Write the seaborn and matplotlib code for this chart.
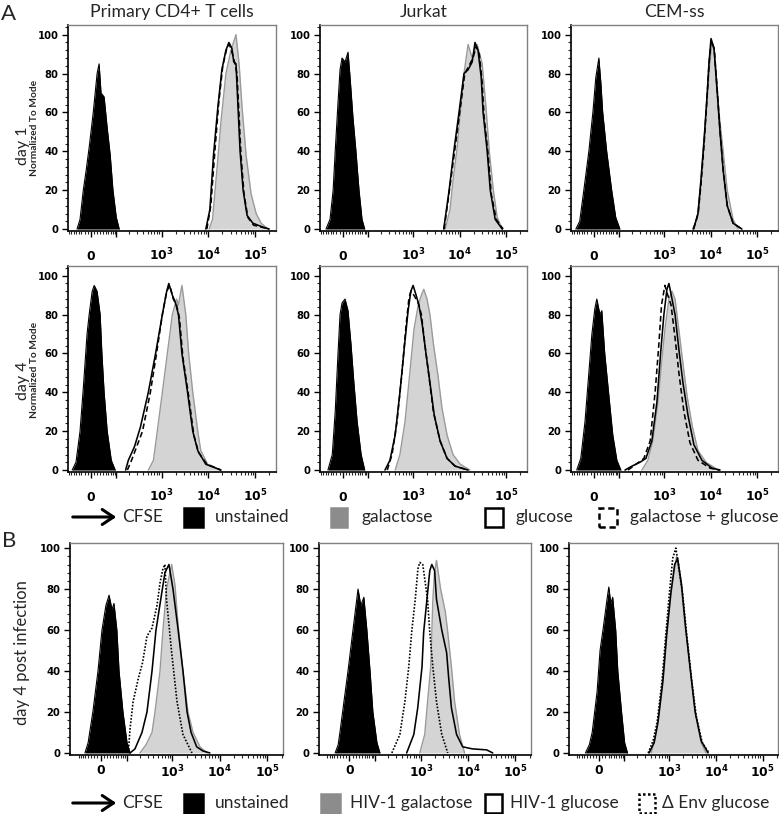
import pandas as pd
import matplotlib
matplotlib.use("Agg")
import matplotlib.pyplot as plt
import seaborn as sns
from matplotlib.patches import Rectangle, FancyArrowPatch
from matplotlib.ticker import MultipleLocator

# ---- labels ----
cell_types = ["Primary CD4+ T cells", "Jurkat", "CEM-ss"]
row_labels = ["day 1", "day 4"]
legend_a = ["unstained", "galactose", "glucose", "galactose + glucose"]
legend_b = ["unstained", "HIV-1 galactose", "HIV-1 glucose", "\u0394 Env glucose"]
x_major = [0, 100, 1e3, 1e4, 1e5]
x_major_labels = ["0", "", r"$\mathbf{10^{3}}$", r"$\mathbf{10^{4}}$", r"$\mathbf{10^{5}}$"]
y_major = [0, 20, 40, 60, 80, 100]

# ---- histograms: (CFSE intensity, % of mode) ----
# A, day 1
primary_d1_unst = [(-46, 0), (-35, 5), (-24, 20), (-15, 30), (-5.5, 42), (7, 60), (19, 80), (25.5, 85),
                   (32, 70), (43, 68), (55, 52), (68, 38), (81, 20), (99, 6), (117, 0)]
primary_d1_gal = [(10400, 0), (12300, 5), (15200, 30), (18600, 55), (23800, 80), (30500, 92), (39100, 100),
                  (45500, 85), (52900, 62), (64200, 38), (82300, 18), (105500, 8), (135000, 3), (190000, 0)]
primary_d1_glc = [(8850, 0), (10800, 10), (12900, 38), (15900, 62), (19500, 82), (23800, 92), (27500, 96),
                  (31900, 93), (35000, 86), (39100, 85), (43300, 62), (47800, 40), (55500, 20), (67500, 7),
                  (90000, 3), (147000, 1), (200000, 0)]
primary_d1_galglc = [(9300, 0), (11300, 12), (13800, 40), (16700, 65), (20400, 84), (24800, 93), (28400, 95),
                     (33000, 90), (36300, 86), (41000, 80), (45500, 58), (50000, 38), (58000, 18), (70000, 6),
                     (93000, 2), (200000, 0)]

jurkat_d1_unst = [(-58, 0), (-42, 5), (-31, 20), (-24, 40), (-15, 65), (-8.7, 82), (-2.5, 88), (6.8, 86),
                  (16, 91), (22.6, 78), (32, 58), (43, 40), (55, 20), (68, 5), (81, 0)]
jurkat_d1_gal = [(4900, 0), (6200, 10), (7200, 25), (8850, 42), (10300, 60), (12400, 80), (15200, 95),
                 (18600, 88), (23800, 95), (30500, 85), (37000, 62), (43300, 40), (52900, 20), (64200, 6), (82300, 0)]
jurkat_d1_glc = [(4550, 0), (5950, 20), (7500, 40), (9700, 60), (12400, 80), (15200, 82), (18600, 86),
                 (21400, 96), (24800, 92), (29100, 78), (31900, 60), (39100, 40), (45500, 20), (58000, 5), (82300, 0)]
jurkat_d1_galglc = [(4650, 0), (6200, 22), (8000, 42), (10300, 62), (12900, 80), (15900, 84), (19300, 88),
                    (22800, 94), (26500, 90), (30500, 75), (33500, 58), (41000, 38), (47800, 18), (61000, 5),
                    (86000, 0)]

cem_d1_unst = [(-63, 0), (-47, 4), (-32, 20), (-15.5, 40), (-3, 60), (6, 78), (15.5, 88), (22, 75), (28, 60),
               (42, 40), (62, 20), (81, 6), (104, 0)]
cem_d1_gal = [(4080, 0), (5110, 5), (5900, 20), (6860, 40), (8000, 60), (9190, 80), (10700, 96), (12300, 90),
              (15100, 60), (18600, 40), (22700, 20), (30300, 5), (38800, 0)]
cem_d1_glc = [(4280, 0), (5360, 8), (6200, 25), (7200, 45), (8350, 68), (9190, 85), (10200, 98), (11800, 93),
              (13700, 72), (15900, 50), (18600, 30), (22700, 12), (30300, 3), (47000, 0)]
cem_d1_galglc = [(4300, 0), (5400, 8), (6250, 24), (7250, 44), (8400, 68), (9250, 85), (10250, 97), (11900, 93),
                 (13800, 72), (16000, 50), (18700, 30), (22800, 12), (30500, 3), (47000, 0)]

# A, day 4
primary_d4_unst = [(-66, 0), (-50, 4), (-35, 20), (-24, 42), (-12, 70), (-5.5, 80), (3.7, 92), (10, 95),
                   (19, 92), (29, 80), (35, 60), (43, 40), (55, 20), (73, 5), (93, 0)]
primary_d4_gal = [(520, 0), (670, 5), (810, 20), (1040, 40), (1330, 60), (1700, 80), (2090, 88), (2300, 85),
                  (2730, 95), (3300, 80), (3800, 60), (4650, 40), (5950, 20), (6900, 10), (9700, 3), (18600, 0)]
primary_d4_glc = [(165, 0), (190, 5), (260, 12), (350, 22), (520, 40), (745, 60), (1040, 80), (1290, 92),
                  (1430, 96), (1700, 90), (1990, 86), (2300, 80), (2730, 60), (3600, 40), (4650, 20), (5950, 10),
                  (8850, 3), (18600, 0)]
primary_d4_galglc = [(181, 0), (224, 5), (390, 20), (575, 40), (780, 60), (1040, 80), (1290, 92), (1505, 95),
                     (1785, 88), (2090, 85), (2420, 78), (2860, 58), (3800, 38), (4900, 18), (6200, 9), (9300, 3),
                     (18600, 0)]

jurkat_d4_unst = [(-50, 0), (-34, 8), (-24, 30), (-15, 60), (-8.7, 80), (-2.5, 86), (6.8, 88), (16, 82),
                  (25.5, 65), (35.5, 45), (47.5, 25), (64, 8), (81, 0)]
jurkat_d4_gal = [(410, 0), (520, 8), (670, 25), (850, 50), (1040, 72), (1290, 85), (1505, 90), (1700, 93),
                 (1990, 88), (2300, 80), (2730, 65), (3450, 48), (4170, 32), (5370, 18), (7200, 8), (10300, 3),
                 (16700, 0)]
jurkat_d4_glc = [(245, 0), (315, 5), (410, 18), (520, 40), (640, 62), (780, 82), (895, 92), (1000, 95),
                 (1160, 90), (1330, 85), (1570, 75), (1890, 60), (2300, 45), (2860, 28), (3800, 15), (5370, 6),
                 (8000, 2), (15200, 0)]
jurkat_d4_galglc = [(275, 0), (350, 8), (450, 25), (575, 50), (710, 75), (810, 88), (895, 92), (1040, 90),
                    (1290, 86), (1505, 80), (1785, 65), (2200, 48), (2730, 30), (3800, 15), (5370, 6), (8000, 2),
                    (15200, 0)]

cem_d4_unst = [(-59, 0), (-43, 6), (-28, 25), (-15.5, 50), (-6, 70), (3, 83), (9, 88), (19, 80), (25, 82),
               (35, 60), (50.6, 38), (67, 18), (87, 5), (110, 0)]
cem_d4_gal = [(330, 0), (445, 5), (570, 15), (740, 35), (880, 55), (1070, 75), (1270, 88), (1480, 92),
              (1720, 88), (2080, 72), (2540, 55), (3120, 38), (4080, 22), (5360, 10), (8000, 4), (14500, 0)]
cem_d4_glc = [(138, 0), (198, 2), (300, 4), (405, 6), (545, 15), (700, 35), (840, 60), (990, 80), (1150, 93),
              (1270, 96), (1480, 88), (1720, 80), (2080, 62), (2540, 45), (3270, 28), (4375, 13), (6500, 5),
              (10700, 1), (15900, 0)]
cem_d4_galglc = [(162, 0), (245, 3), (366, 6), (500, 15), (640, 40), (773, 65), (880, 85), (1040, 95),
                 (1200, 90), (1410, 85), (1720, 68), (2080, 50), (2667, 30), (3600, 14), (5360, 5), (9700, 1),
                 (15900, 0)]

# B, day 4 post infection
primary_inf_unst = [(-52, 0), (-40, 5), (-24, 20), (-8, 40), (4, 60), (16, 72), (26, 77), (36, 70), (43, 73),
                    (54, 60), (63, 40), (81, 20), (103, 5), (122, 0)]
primary_inf_gal = [(204, 0), (276, 4), (372, 10), (430, 20), (550, 40), (635, 60), (755, 80), (970, 92),
                   (1140, 82), (1330, 62), (1680, 40), (2140, 20), (2740, 10), (3840, 3), (5400, 0)]
primary_inf_glc = [(122, 0), (158, 2), (226, 10), (290, 20), (372, 40), (452, 60), (617, 80), (700, 88),
                   (850, 92), (1035, 80), (1330, 60), (1680, 40), (2050, 20), (2490, 10), (3270, 3), (4400, 1),
                   (6200, 0)]
primary_inf_denv = [(110, 0), (122, 12), (143, 25), (186, 36), (232, 44), (290, 57), (372, 61), (475, 72),
                    (550, 83), (635, 90), (700, 92), (755, 75), (970, 49), (1260, 25), (1680, 9), (2600, 0)]

jurkat_inf_unst = [(-47, 0), (-36, 4), (-30, 10), (-17, 25), (-4.5, 40), (10.5, 60), (26.5, 80), (36, 72),
                   (47, 76), (59, 60), (73, 40), (87, 20), (110, 5), (130, 0)]
jurkat_inf_gal = [(950, 0), (1210, 9), (1390, 25), (1620, 42), (1710, 59), (1800, 75), (1950, 88), (2150, 94),
                  (2630, 80), (3300, 69), (3720, 59), (4450, 42), (5200, 25), (6600, 9), (8450, 0)]
jurkat_inf_glc = [(500, 0), (710, 9), (860, 22), (1060, 42), (1150, 59), (1350, 75), (1550, 89), (1710, 92),
                  (1960, 89), (2150, 75), (2780, 60), (3520, 49), (3880, 37), (4450, 22), (5720, 9), (7700, 3),
                  (12300, 2), (24700, 1.5), (33400, 0)]
jurkat_inf_denv = [(240, 0), (358, 9), (458, 25), (555, 42), (640, 59), (762, 75), (870, 90), (950, 93),
                   (1100, 92), (1390, 75), (1550, 59), (1800, 42), (2150, 25), (2780, 9), (3720, 0)]

cem_inf_unst = [(-45, 0), (-31, 4), (-21.5, 10), (-6, 30), (3, 50), (12, 60), (25, 75), (31, 81), (38, 73),
                (45, 76), (57, 60), (66, 40), (84, 20), (101, 5), (119, 0)]
cem_inf_gal = [(405, 0), (520, 10), (600, 20), (745, 40), (880, 60), (1120, 80), (1430, 96), (1830, 80),
               (2220, 60), (2840, 40), (3580, 20), (4820, 5), (6150, 0)]
cem_inf_glc = [(365, 0), (470, 5), (569, 15), (726, 35), (880, 58), (1075, 78), (1300, 92), (1506, 95),
               (1830, 82), (2220, 62), (2840, 40), (3580, 20), (4820, 6), (6790, 0)]
cem_inf_denv = [(348, 0), (446, 6), (545, 15), (695, 35), (840, 58), (1020, 80), (1181, 95), (1375, 100),
                (1570, 92), (1920, 78), (2350, 58), (3000, 36), (3780, 18), (5070, 5), (7100, 0)]

W, H = 779, 814

sns.set_style("ticks")
plt.rcParams["font.family"] = ["Lato", "DejaVu Sans"]
plt.rcParams["mathtext.fontset"] = "dejavusans"


def fx(px):
    return px / W


def fy(py):
    return 1 - py / H


def draw_curve(ax, pts, kind):
    df = pd.DataFrame(pts, columns=["cfse", "pct"])
    common = dict(data=df, x="cfse", y="pct", ax=ax, sort=False, estimator=None)
    if kind == "unstained":
        ax.fill_between(df["cfse"], df["pct"], color="black", lw=0, zorder=2)
        sns.lineplot(**common, color="black", lw=0.8, zorder=2)
    elif kind == "gal":
        ax.fill_between(df["cfse"], df["pct"], color="#d4d4d4", lw=0, zorder=3)
        sns.lineplot(**common, color="#9a9a9a", lw=1.0, zorder=3)
    elif kind == "solid":
        sns.lineplot(**common, color="black", lw=1.15, zorder=5)
    elif kind == "dashed":
        sns.lineplot(**common, color="black", lw=1.15, linestyle=(0, (3.5, 2)), zorder=4)
    elif kind == "dotted":
        sns.lineplot(**common, color="black", lw=1.2, linestyle=(0, (1, 1)), zorder=4)


def style_axes(ax, xlim, ylim, baseline_labels):
    ax.set_xscale("asinh", linear_width=62)
    ax.set_xlim(*xlim)
    ax.set_ylim(*ylim)
    ax.set(xlabel="", ylabel="")
    minor = [v for v in range(-80, 0, 10)] + [v for v in range(10, 100, 10)]
    for dec in [100, 1000, 10000, 100000]:
        minor += [k * dec for k in range(2, 10)]
    minor = [m for m in minor if xlim[0] < m < xlim[1]]
    lab_kw = dict(fontfamily="DejaVu Sans", fontweight="bold")
    if baseline_labels:
        ax.set_xticks(x_major, x_major_labels, va="baseline", **lab_kw)
    else:
        ax.set_xticks(x_major, x_major_labels, **lab_kw)
    ax.set_xticks(minor, minor=True)
    ax.set_yticks(y_major, [str(v) for v in y_major], **lab_kw)
    ax.yaxis.set_minor_locator(MultipleLocator(4))
    ax.tick_params(axis="both", which="major", direction="out", length=4, width=1, colors="black")
    ax.tick_params(axis="y", which="major", labelsize=7.2, pad=3)
    ax.tick_params(axis="x", which="major", labelsize=8.8, pad=17 if baseline_labels else 2.5)
    ax.tick_params(axis="both", which="minor", direction="out", length=2, width=0.8)
    for side in ["left", "bottom"]:
        ax.spines[side].set_color("black")
        ax.spines[side].set_linewidth(1.2)
    for side in ["top", "right"]:
        ax.spines[side].set_color("#808080")
        ax.spines[side].set_linewidth(1.0)


fig = plt.figure(figsize=(W / 100, H / 100), dpi=100)

cols_a = [(68, 208), (320, 207), (571, 207)]
rows_a = [(25, 231), (266, 472)]
cols_b = [(70, 213), (319, 212), (569, 209)]
row_b = (543, 755)

panels_a = [
    [(primary_d1_unst, primary_d1_gal, primary_d1_galglc, primary_d1_glc),
     (jurkat_d1_unst, jurkat_d1_gal, jurkat_d1_galglc, jurkat_d1_glc),
     (cem_d1_unst, cem_d1_gal, cem_d1_galglc, cem_d1_glc)],
    [(primary_d4_unst, primary_d4_gal, primary_d4_galglc, primary_d4_glc),
     (jurkat_d4_unst, jurkat_d4_gal, jurkat_d4_galglc, jurkat_d4_glc),
     (cem_d4_unst, cem_d4_gal, cem_d4_galglc, cem_d4_glc)],
]
panels_b = [(primary_inf_unst, primary_inf_gal, primary_inf_denv, primary_inf_glc),
            (jurkat_inf_unst, jurkat_inf_gal, jurkat_inf_denv, jurkat_inf_glc),
            (cem_inf_unst, cem_inf_gal, cem_inf_denv, cem_inf_glc)]

for r, (top, bottom) in enumerate(rows_a):
    for c, (left, width) in enumerate(cols_a):
        ax = fig.add_axes([fx(left), fy(bottom), width / W, (bottom - top) / H])
        unst, gal, galglc, glc = panels_a[r][c]
        draw_curve(ax, unst, "unstained")
        draw_curve(ax, gal, "gal")
        draw_curve(ax, galglc, "dashed")
        draw_curve(ax, glc, "solid")
        style_axes(ax, (-86, 2.8e5), (-1, 105), True)
        if r == 0:
            fig.text(fx(left + width / 2), fy(12), cell_types[c], ha="center", va="center", fontsize=12.7)

for c, (left, width) in enumerate(cols_b):
    top, bottom = row_b
    ax = fig.add_axes([fx(left), fy(bottom), width / W, (bottom - top) / H])
    unst, gal, denv, glc = panels_b[c]
    draw_curve(ax, unst, "unstained")
    draw_curve(ax, gal, "gal")
    draw_curve(ax, denv, "dotted")
    draw_curve(ax, glc, "solid")
    style_axes(ax, (-130, 2.15e5), (-1, 102.5), False)

# panel letters and row labels
fig.text(fx(1), fy(14), "A", ha="left", va="center", fontsize=16)
fig.text(fx(2), fy(541), "B", ha="left", va="center", fontsize=16)
for label, (yc_day, yc_norm) in zip(row_labels, [(146, 128), (381, 370)]):
    fig.text(fx(23), fy(yc_day), label, rotation=90, ha="center", va="center", fontsize=11.5)
    fig.text(fx(34.5), fy(yc_norm), "Normalized To Mode", rotation=90, ha="center", va="center",
             fontsize=7.3, fontweight="bold")
fig.text(fx(22), fy(653), "day 4 post infection", rotation=90, ha="center", va="center", fontsize=12)


def legend_row(yc, entries):
    fig.add_artist(FancyArrowPatch((fx(70), fy(yc)), (fx(119), fy(yc)), transform=fig.transFigure,
                                   arrowstyle="->,head_length=0.45,head_width=0.3", mutation_scale=18,
                                   lw=2.2, color="black"))
    fig.text(fx(122), fy(yc), "CFSE", ha="left", va="center", fontsize=12.5)
    for (x0, w, face, ls), (tx, label) in entries:
        h = 19
        fig.add_artist(Rectangle((fx(x0), fy(yc + h / 2)), w / W, h / H, transform=fig.transFigure,
                                 facecolor=face, edgecolor="black" if face != "#8c8c8c" else face,
                                 lw=1.8, linestyle=ls))
        fig.text(fx(tx), fy(yc), label, ha="left", va="center", fontsize=12.5)


legend_row(517, [((184, 19, "black", "-"), (215, legend_a[0])),
                 ((331, 16, "#8c8c8c", "-"), (362, legend_a[1])),
                 ((485, 18, "white", "-"), (515, legend_a[2])),
                 ((599, 18, "white", (0, (2.5, 1.5))), (630, legend_a[3]))])
legend_row(803, [((184, 19, "black", "-"), (215, legend_b[0])),
                 ((321, 19, "#8c8c8c", "-"), (350, legend_b[1])),
                 ((485, 17, "white", "-"), (510, legend_b[2])),
                 ((639, 16, "white", (0, (1, 1))), (662, legend_b[3]))])

fig.savefig("out.png", dpi=100)
